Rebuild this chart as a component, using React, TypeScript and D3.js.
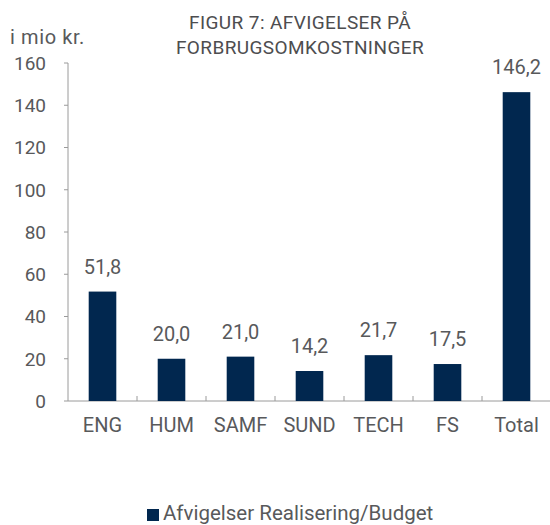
import * as d3 from 'd3';

const categories = ['ENG', 'HUM', 'SAMF', 'SUND', 'TECH', 'FS', 'Total'];
const values = [51.8, 20.0, 21.0, 14.2, 21.7, 17.5, 146.2];
const yTicks = [0, 20, 40, 60, 80, 100, 120, 140, 160];
const titleLines = ['FIGUR 7: AFVIGELSER PÅ', 'FORBRUGSOMKOSTNINGER'];
const unitLabel = 'i mio kr.';
const legendLabel = 'Afvigelser Realisering/Budget';

const W = 550;
const H = 525;
const FONT = 'Roboto, sans-serif';
const GREY = '#58595b';
const BAR = '#01274f';

export default function App() {
  const left = 68;
  const right = 551;
  const top = 63;
  const bottom = 401;

  const x = d3.scaleBand().domain(categories).range([left, right]).paddingInner(0.6).paddingOuter(0.3);
  const band = d3.scaleBand().domain(categories).range([left, right]);
  const y = d3.scaleLinear().domain([0, 160]).range([bottom, top]);
  const fmt = (v: number) => d3.format('.1f')(v).replace('.', ',');

  return (
    <div style={{ position: 'fixed', left: 0, top: 0 }}>
      <svg width={W} height={H} style={{ display: 'block', background: '#fff' }}>
        {/* title */}
        {titleLines.map((t, i) => (
          <text key={t} x={300} y={29 + i * 25} textAnchor="middle" fontFamily={FONT}
            fontSize={19} fontWeight={400} letterSpacing={0.4} fill="#4d4d4f">{t}</text>
        ))}
        <text x={10} y={44} fontFamily={FONT} fontSize={20} letterSpacing={0.6} fill={GREY}>{unitLabel}</text>

        {/* y axis */}
        <line x1={left} x2={left} y1={top} y2={bottom} stroke="#9a9a9a" strokeWidth={1} />
        {yTicks.map(t => (
          <g key={t}>
            <line x1={left - 4} x2={left} y1={y(t)} y2={y(t)} stroke="#9a9a9a" />
            <text x={46} y={y(t)} dy="0.36em" textAnchor="end" fontFamily={FONT}
              fontSize={19} fill={GREY}>{t}</text>
          </g>
        ))}

        {/* x axis */}
        <line x1={left} x2={W} y1={bottom} y2={bottom} stroke="#9a9a9a" strokeWidth={1} />
        {categories.slice(1).map(c => (
          <line key={c} x1={band(c)!} x2={band(c)!} y1={bottom} y2={bottom - 5} stroke="#9a9a9a" />
        ))}
        {categories.map(c => (
          <text key={c} x={band(c)! + band.bandwidth() / 2} y={432} textAnchor="middle"
            fontFamily={FONT} fontSize={20} fill={GREY}>{c}</text>
        ))}

        {/* bars */}
        {categories.map((c, i) => (
          <g key={c}>
            <rect x={x(c)} y={y(values[i])} width={x.bandwidth()} height={bottom - y(values[i])} fill={BAR} />
            <text x={x(c)! + x.bandwidth() / 2} y={y(values[i]) - 18} textAnchor="middle"
              fontFamily={FONT} fontSize={20} fill={GREY}>{fmt(values[i])}</text>
          </g>
        ))}

        {/* legend */}
        <rect x={147} y={509} width={12} height={12} fill={BAR} />
        <text x={163} y={520} fontFamily={FONT} fontSize={20.5} fill={GREY}>{legendLabel}</text>
      </svg>
    </div>
  );
}
